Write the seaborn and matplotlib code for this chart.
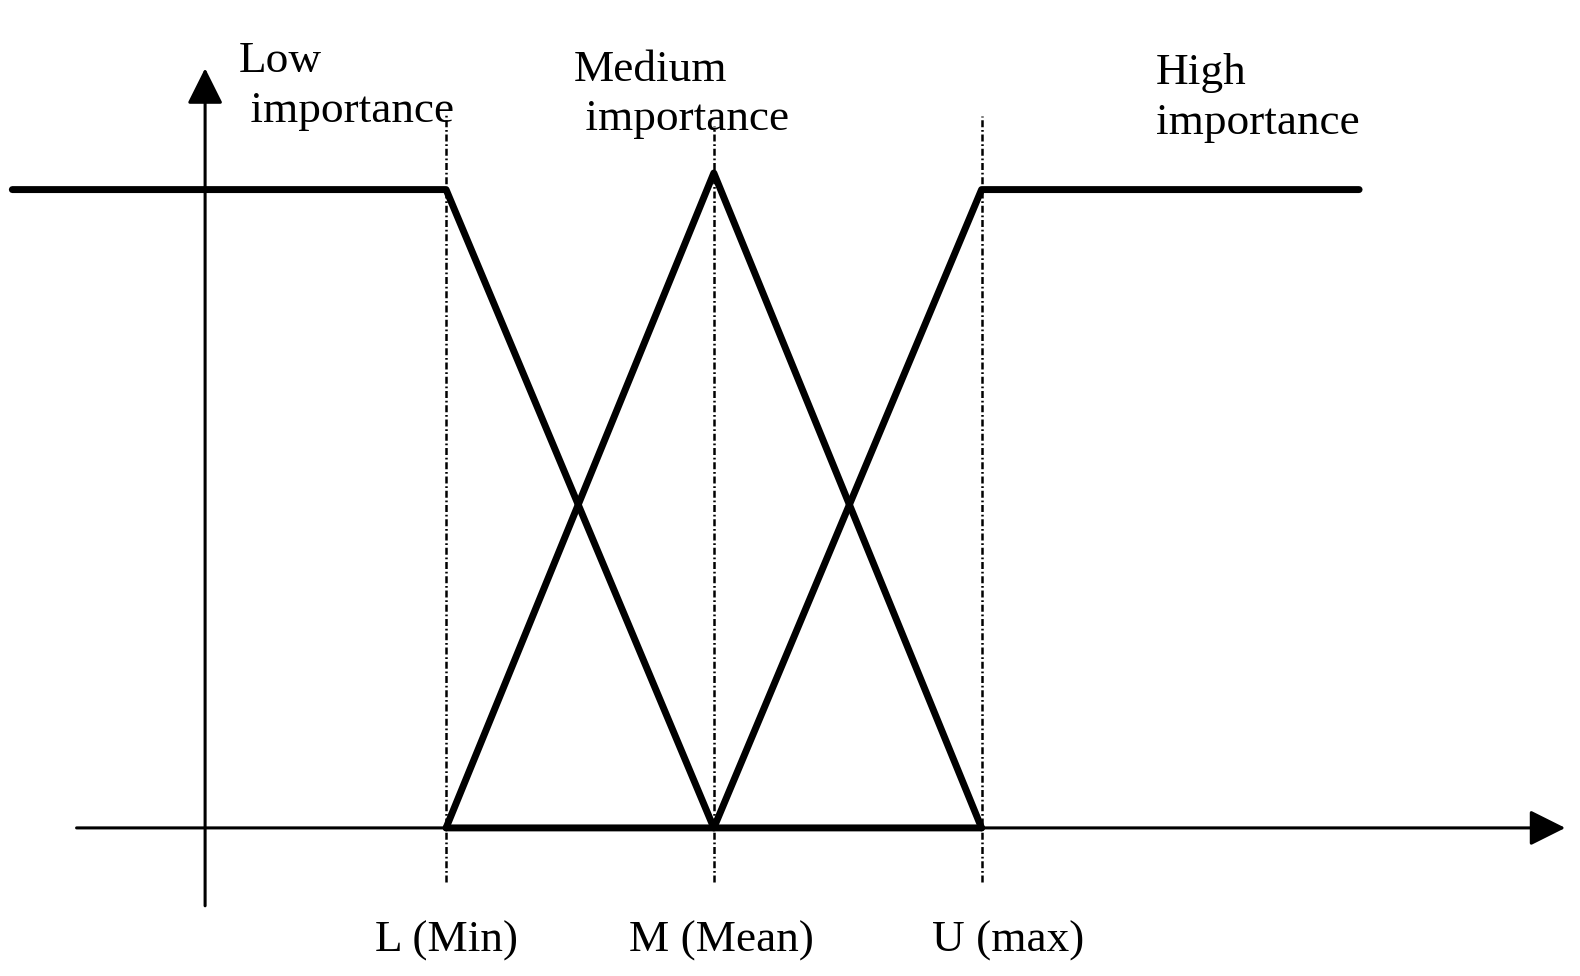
import pandas as pd
import matplotlib.pyplot as plt
import seaborn as sns

# points L, M, U on the x axis
breaks = [1.0, 2.0, 3.0]
break_labels = ["L (Min)", "M (Mean)", "U (max)"]
label_x = [1.0, 2.03, 3.10]
guide_top = [1.12, 1.10, 1.115]

# membership functions
low_x = [-0.62, 1.0, 2.0, 3.0]
low_y = [1.0, 1.0, 0.0, 0.0]
med_x = [1.0, 2.0, 3.0]
med_y = [0.0, 1.026, 0.0]
high_x = [1.0, 2.0, 3.0, 4.41]
high_y = [0.0, 0.0, 1.0, 1.0]

set_names = ["Low\n importance", "Medium\n importance", "High\nimportance"]
set_text_x = [0.225, 1.478, 3.65]
set_text_y = [1.106, 1.093, 1.087]  # baseline of the second line

sns.set_style("white")
plt.rcParams["font.family"] = ["Liberation Serif", "DejaVu Serif"]
plt.rcParams["text.color"] = "black"

df = pd.concat([
    pd.DataFrame({"x": low_x, "y": low_y, "set": "low"}),
    pd.DataFrame({"x": med_x, "y": med_y, "set": "medium"}),
    pd.DataFrame({"x": high_x, "y": high_y, "set": "high"}),
])

fig = plt.figure(figsize=(15.8, 9.76), dpi=100)
ax = fig.add_axes([0, 0, 1, 1])

sns.lineplot(data=df, x="x", y="y", units="set", estimator=None,
             color="black", lw=5, sort=False, ax=ax, legend=False)

# dash-dot guides at L, M, U
for xb, top in zip(breaks, guide_top):
    ax.plot([xb, xb], [-0.085, top], color="black", lw=1.8,
            linestyle=(0, (2.8, 1.1, 0.7, 1.1)), zorder=1)

# axes with arrow heads
arrow = dict(arrowstyle="-|>,head_length=1.1,head_width=0.55", mutation_scale=20,
             lw=2.2, color="black", shrinkA=0, shrinkB=0)
ax.annotate("", xy=(0.1, 1.19), xytext=(0.1, -0.122), arrowprops=arrow)
ax.annotate("", xy=(5.18, 0.0), xytext=(-0.38, 0.0), arrowprops=arrow)

# set names
for name, tx, ty in zip(set_names, set_text_x, set_text_y):
    ax.text(tx, ty, name, fontsize=32.6, ha="left", va="baseline",
            linespacing=1.31, color="black")

for lab, lx in zip(break_labels, label_x):
    ax.text(lx, -0.193, lab, fontsize=32.6, ha="center", va="baseline",
            color="black")

ax.set_xlim(-0.666, 5.235)
ax.set_ylim(-0.232, 1.297)
ax.axis("off")

plt.savefig("out.png", dpi=100)
